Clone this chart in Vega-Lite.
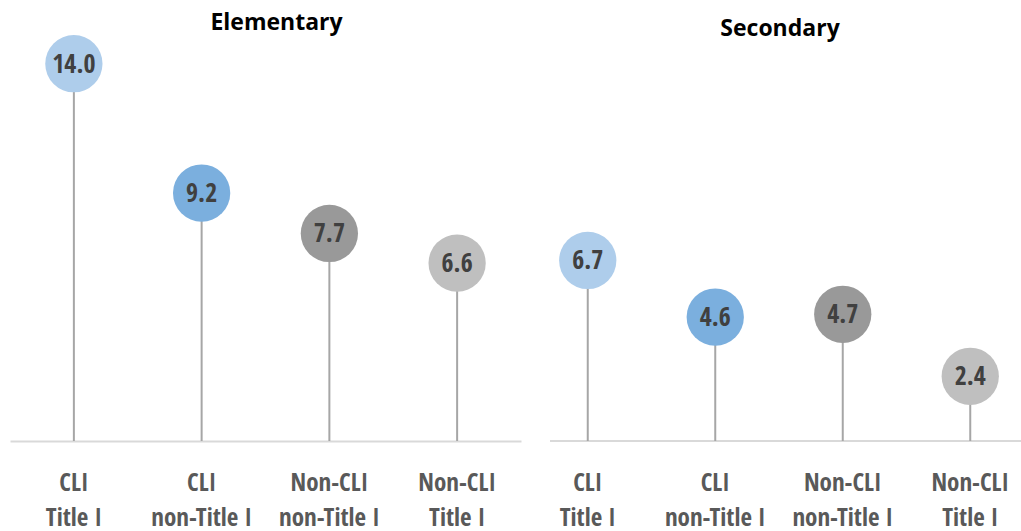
{
  "$schema": "https://vega.github.io/schema/vega-lite/v6.json",
  "background": "white",
  "padding": {"left": 10, "top": 12, "right": 0, "bottom": 0},
  "config": {"view": {"stroke": null}, "concat": {"spacing": 28}},
  "datasets": {
    "d": [
      {"level": "Elementary", "group": "CLI|Title I", "value": 14.0},
      {"level": "Elementary", "group": "CLI|non-Title I", "value": 9.2},
      {"level": "Elementary", "group": "Non-CLI|non-Title I", "value": 7.7},
      {"level": "Elementary", "group": "Non-CLI|Title I", "value": 6.6},
      {"level": "Secondary", "group": "CLI|Title I", "value": 6.7},
      {"level": "Secondary", "group": "CLI|non-Title I", "value": 4.6},
      {"level": "Secondary", "group": "Non-CLI|non-Title I", "value": 4.7},
      {"level": "Secondary", "group": "Non-CLI|Title I", "value": 2.4}
    ]
  },
  "hconcat": [
    {
      "width": 511,
      "height": 397,
      "data": {"name": "d"},
      "transform": [{"filter": "datum.level === 'Elementary'"}],
      "title": {"text": "Elementary", "font": "Open Sans", "fontSize": 23, "fontWeight": "bold", "color": "#000000", "baseline": "alphabetic", "offset": -18, "dx": 11, "anchor": "middle", "frame": "group"},
      "encoding": {
        "x": {"field": "group", "type": "nominal", "sort": ["CLI|Title I", "CLI|non-Title I", "Non-CLI|non-Title I", "Non-CLI|Title I"],
          "scale": {"paddingInner": 0, "paddingOuter": 0},
          "axis": {"title": null, "domain": true, "domainColor": "#D9D9D9", "domainWidth": 2, "ticks": false, "labelAngle": 0, "labelFont": "'Open Sans Condensed', 'Noto Sans Condensed', 'Roboto Condensed', 'Liberation Sans Narrow', 'DejaVu Sans Condensed', sans-serif", "labelFontSize": 25, "labelFontWeight": "bold", "labelColor": "#595959", "labelLineHeight": 35, "labelPadding": 29, "labelExpr": "split(datum.label, '|')"}},
        "y": {"field": "value", "type": "quantitative", "scale": {"domain": [0, 14.73]}, "axis": null}
      },
      "layer": [
        {"mark": {"type": "rule", "color": "#A6A6A6", "strokeWidth": 2}, "encoding": {"y2": {"datum": 0}}},
        {"mark": {"type": "circle", "size": 3280, "opacity": 1},
         "encoding": {"color": {"field": "group", "type": "nominal", "legend": null,
           "scale": {"domain": ["CLI|Title I", "CLI|non-Title I", "Non-CLI|non-Title I", "Non-CLI|Title I"], "range": ["#AECDEB", "#7BAFDE", "#999999", "#BFBFBF"]}}}},
        {"mark": {"type": "text", "font": "'Open Sans Condensed', 'Noto Sans Condensed', 'Roboto Condensed', 'Liberation Sans Narrow', 'DejaVu Sans Condensed', sans-serif", "fontSize": 26, "fontWeight": "bold", "color": "#404040", "baseline": "middle", "align": "center", "dy": 1},
         "encoding": {"text": {"field": "value", "type": "quantitative", "format": ".1f"}}}
      ]
    },
    {
      "width": 472,
      "height": 397,
      "data": {"name": "d"},
      "transform": [{"filter": "datum.level === 'Secondary'"}],
      "title": {"text": "Secondary", "font": "Open Sans", "fontSize": 23, "fontWeight": "bold", "color": "#000000", "baseline": "alphabetic", "offset": -15, "dx": -6, "anchor": "middle", "frame": "group"},
      "encoding": {
        "x": {"field": "group", "type": "nominal", "sort": ["CLI|Title I", "CLI|non-Title I", "Non-CLI|non-Title I", "Non-CLI|Title I"],
          "scale": {"paddingInner": 0, "paddingOuter": 0, "range": [-26, 484]},
          "axis": {"title": null, "domain": false, "ticks": false, "labelAngle": 0, "labelFont": "'Open Sans Condensed', 'Noto Sans Condensed', 'Roboto Condensed', 'Liberation Sans Narrow', 'DejaVu Sans Condensed', sans-serif", "labelFontSize": 25, "labelFontWeight": "bold", "labelColor": "#595959", "labelLineHeight": 35, "labelPadding": 29, "labelExpr": "split(datum.label, '|')"}},
        "y": {"field": "value", "type": "quantitative", "scale": {"domain": [0, 14.73]}, "axis": null}
      },
      "layer": [
        {"mark": {"type": "rule", "color": "#D9D9D9", "strokeWidth": 2}, "encoding": {"x": null, "y": {"datum": 0, "type": "quantitative"}}},
        {"mark": {"type": "rule", "color": "#A6A6A6", "strokeWidth": 2}, "encoding": {"y2": {"datum": 0}}},
        {"mark": {"type": "circle", "size": 3280, "opacity": 1},
         "encoding": {"color": {"field": "group", "type": "nominal", "legend": null,
           "scale": {"domain": ["CLI|Title I", "CLI|non-Title I", "Non-CLI|non-Title I", "Non-CLI|Title I"], "range": ["#AECDEB", "#7BAFDE", "#999999", "#BFBFBF"]}}}},
        {"mark": {"type": "text", "font": "'Open Sans Condensed', 'Noto Sans Condensed', 'Roboto Condensed', 'Liberation Sans Narrow', 'DejaVu Sans Condensed', sans-serif", "fontSize": 26, "fontWeight": "bold", "color": "#404040", "baseline": "middle", "align": "center", "dy": 1},
         "encoding": {"text": {"field": "value", "type": "quantitative", "format": ".1f"}}}
      ]
    }
  ]
}
